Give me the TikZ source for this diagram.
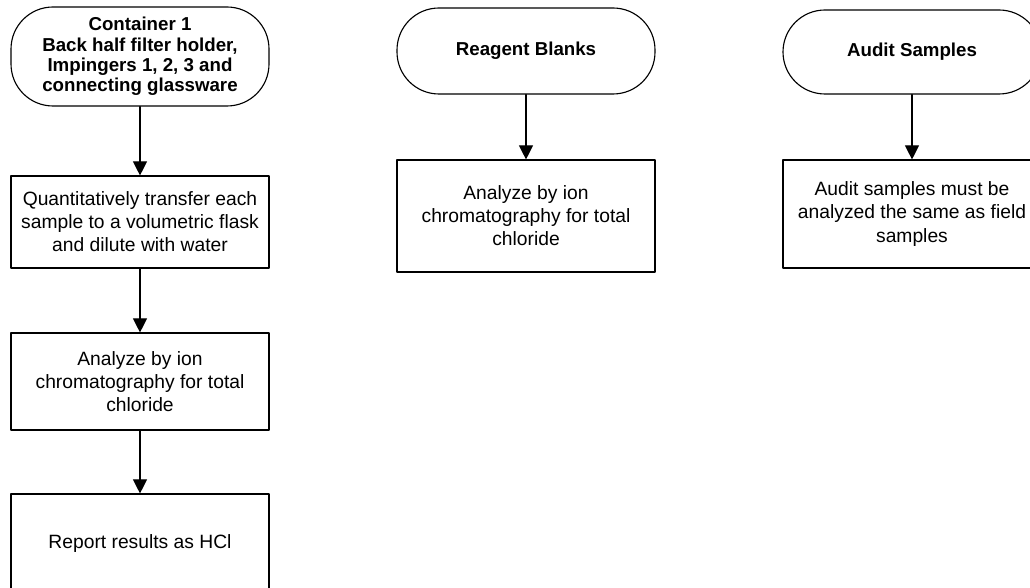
\documentclass[tikz,border=0pt]{standalone}
\usepackage{fontspec}
\setmainfont{Liberation Sans}
\usepackage{tikz}
\usetikzlibrary{arrows.meta}

\tikzset{
  term/.style={draw,line width=0.8pt,rounded corners=1.05cm,minimum width=6.45cm,inner sep=0pt,
    align=center,font=\fontsize{13.3}{14.4}\selectfont\bfseries},
  procbox/.style={draw,line width=0.8pt,minimum width=6.45cm,inner sep=0pt,
    align=center,font=\fontsize{13.7}{16.4}\selectfont},
  flow/.style={line width=0.8pt,-{Triangle[width=10pt,length=10pt]}}
}

\begin{document}
\begin{tikzpicture}[line cap=round,line join=round,x=1cm,y=1cm]
                \useasboundingbox (0,0) rectangle (25.75,-14.7);
                \clip (0,0) rectangle (25.75,-14.7);
                % left column
                \node[term,minimum height=2.475cm] (cont) at (3.5,-1.4125) {Container 1\\Back half filter holder,\\Impingers 1, 2, 3 and\\connecting glassware};
                \node[procbox,minimum height=2.3cm] (transfer) at (3.5,-5.55) {Quantitatively transfer each\\sample to a volumetric flask\\and dilute with water};
                \node[procbox,minimum height=2.425cm] (ionA) at (3.5,-9.5375) {Analyze by ion\\chromatography for total\\chloride};
                \node[procbox,minimum height=2.5cm] (report) at (3.5,-13.6) {Report results as HCl};
                % middle column
                \node[term,minimum height=2.15cm] (blanks) at (13.15,-1.275) {Reagent Blanks};
                \node[procbox,minimum height=2.8cm] (ionB) at (13.15,-5.4) {Analyze by ion\\chromatography for total\\chloride};
                % right column
                \node[term,minimum height=2.1cm] (audit) at (22.8,-1.3) {Audit Samples};
                \node[procbox,minimum height=2.7cm] (auditbox) at (22.8,-5.35) {Audit samples must be\\analyzed the same as field\\samples};
                % arrows
                \draw[flow] (cont) -- (transfer);
                \draw[flow] (transfer) -- (ionA);
                \draw[flow] (ionA) -- (report);
                \draw[flow] (blanks) -- (ionB);
                \draw[flow] (audit) -- (auditbox);
\end{tikzpicture}
\end{document}
